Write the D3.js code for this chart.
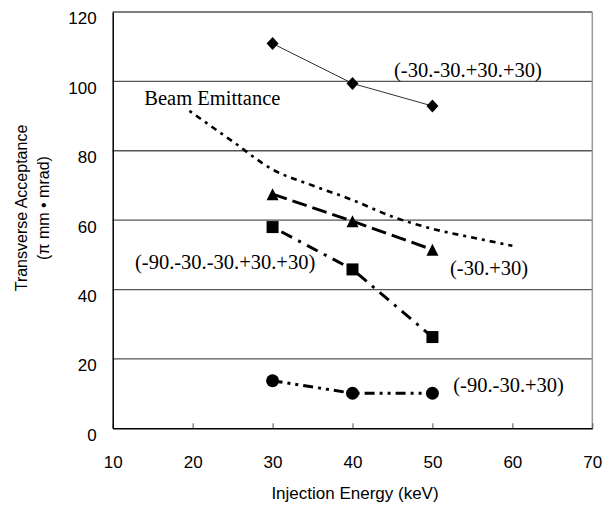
<!DOCTYPE html>
<html><head><meta charset="utf-8">
<script src="https://cdn.jsdelivr.net/npm/d3@7"></script>
<style>body{margin:0;background:#fff}svg{display:block}</style>
</head><body>
<svg id="chart" width="605" height="510"></svg>
<script>
// ---- data ----
const energies = [30, 40, 50];
const accDiamond = [110.9, 99.4, 92.9];   // (-30.-30.+30.+30)
const accTriangle = [67.5, 59.7, 51.5];   // (-30.+30)
const accSquare = [58, 45.8, 26.3];       // (-90.-30.-30.+30.+30)
const accCircle = [13.7, 10.1, 10.1];     // (-90.-30.+30)
const emitEnergy = [19.6, 25, 30, 35, 40, 45, 50, 55, 60];
const emitValue = [91.5, 82.7, 74.6, 70, 65.8, 61, 57.5, 55, 52.6];
const xTicks = [10, 20, 30, 40, 50, 60, 70];
const yTicks = [0, 20, 40, 60, 80, 100, 120];
const labels = ["(-30.-30.+30.+30)", "Beam Emittance", "(-90.-30.-30.+30.+30)", "(-30.+30)", "(-90.-30.+30)"];

const svg = d3.select("#chart");
const x = d3.scaleLinear().domain([10, 70]).range([112.7, 592.3]);
const y = d3.scaleLinear().domain([0, 120]).range([428.3, 12]);

// gridlines
svg.append("g").selectAll("line").data(yTicks.filter(d => d > 0)).join("line")
  .attr("x1", x(10)).attr("x2", x(70))
  .attr("y1", d => y(d)).attr("y2", d => y(d))
  .attr("stroke", "#555").attr("stroke-width", 1.3);
// right border
svg.append("line").attr("x1", x(70)).attr("x2", x(70)).attr("y1", y(120)).attr("y2", y(0))
  .attr("stroke", "#999").attr("stroke-width", 1.5);

// x axis
const gx = svg.append("g").attr("transform", `translate(0,${y(0)})`)
  .call(d3.axisBottom(x).tickValues(xTicks).tickSize(-5).tickSizeOuter(0).tickPadding(28));
gx.select(".domain").attr("stroke", "#000").attr("stroke-width", 1.5);
gx.selectAll(".tick line").attr("stroke", "#555").attr("stroke-width", 1);
gx.selectAll("text").attr("font-family", "Liberation Sans, Arial, sans-serif").attr("font-size", 17).attr("fill", "#000");

// y axis
const gy = svg.append("g").attr("transform", `translate(${x(10)},0)`)
  .call(d3.axisLeft(y).tickValues(yTicks).tickSize(0).tickSizeOuter(0).tickPadding(16));
gy.select(".domain").attr("stroke", "#000").attr("stroke-width", 1.5);
gy.selectAll("text").attr("dy", "0.7em").attr("font-family", "Liberation Sans, Arial, sans-serif").attr("font-size", 17).attr("fill", "#000");

// axis titles
svg.append("text").attr("x", 355).attr("y", 499).attr("text-anchor", "middle")
  .attr("font-family", "Liberation Sans, Arial, sans-serif").attr("font-size", 17)
  .text("Injection Energy (keV)");
const yt = svg.append("text").attr("transform", "translate(0,208) rotate(-90)")
  .attr("text-anchor", "middle").attr("font-family", "Liberation Sans, Arial, sans-serif").attr("font-size", 16);
yt.append("tspan").attr("x", 0).attr("y", 27).text("Transverse Acceptance");
yt.append("tspan").attr("x", 0).attr("y", 49).text("(\u03C0 mm \u2022 mrad)");

// lines
const line = d3.line().x(d => x(d[0])).y(d => y(d[1]));
const zip = (a, b) => a.map((v, i) => [v, b[i]]);

svg.append("path").datum(zip(emitEnergy, emitValue))
  .attr("d", d3.line().x(d => x(d[0])).y(d => y(d[1])).curve(d3.curveMonotoneX))
  .attr("fill", "none").attr("stroke", "#000").attr("stroke-width", 2.6)
  .attr("stroke-dasharray", "3,5,6,5");

svg.append("path").datum(zip(energies, accDiamond)).attr("d", line)
  .attr("fill", "none").attr("stroke", "#333").attr("stroke-width", 1);
svg.append("path").datum(zip(energies, accTriangle)).attr("d", line)
  .attr("fill", "none").attr("stroke", "#000").attr("stroke-width", 3)
  .attr("stroke-dasharray", "15,6");
svg.append("path").datum(zip(energies, accSquare)).attr("d", line)
  .attr("fill", "none").attr("stroke", "#000").attr("stroke-width", 3)
  .attr("stroke-dasharray", "3,7,12,7");
svg.append("path").datum(zip(energies, accCircle)).attr("d", line)
  .attr("fill", "none").attr("stroke", "#000").attr("stroke-width", 3)
  .attr("stroke-dasharray", "10,5,3,5,3,5");

// markers
svg.append("g").selectAll("path").data(zip(energies, accDiamond)).join("path")
  .attr("transform", d => `translate(${x(d[0])},${y(d[1])})`)
  .attr("d", "M0,-6.5L6,0L0,6.5L-6,0Z").attr("fill", "#000");
svg.append("g").selectAll("path").data(zip(energies, accTriangle)).join("path")
  .attr("transform", d => `translate(${x(d[0])},${y(d[1])})`)
  .attr("d", "M0,-6L6,6L-6,6Z").attr("fill", "#000");
svg.append("g").selectAll("rect").data(zip(energies, accSquare)).join("rect")
  .attr("x", d => x(d[0]) - 6).attr("y", d => y(d[1]) - 6)
  .attr("width", 12).attr("height", 12).attr("fill", "#000");
svg.append("g").selectAll("circle").data(zip(energies, accCircle)).join("circle")
  .attr("cx", d => x(d[0])).attr("cy", d => y(d[1])).attr("r", 6.5).attr("fill", "#000");

// annotations
const ann = [[394, 77], [144.3, 105], [135, 269], [450, 275], [453.3, 392]];
svg.append("g").selectAll("text").data(labels).join("text")
  .attr("x", (d, i) => ann[i][0]).attr("y", (d, i) => ann[i][1])
  .attr("font-family", "Liberation Serif, Times New Roman, serif").attr("font-size", 20.5)
  .attr("fill", "#000").text(d => d);
</script>
</body></html>
